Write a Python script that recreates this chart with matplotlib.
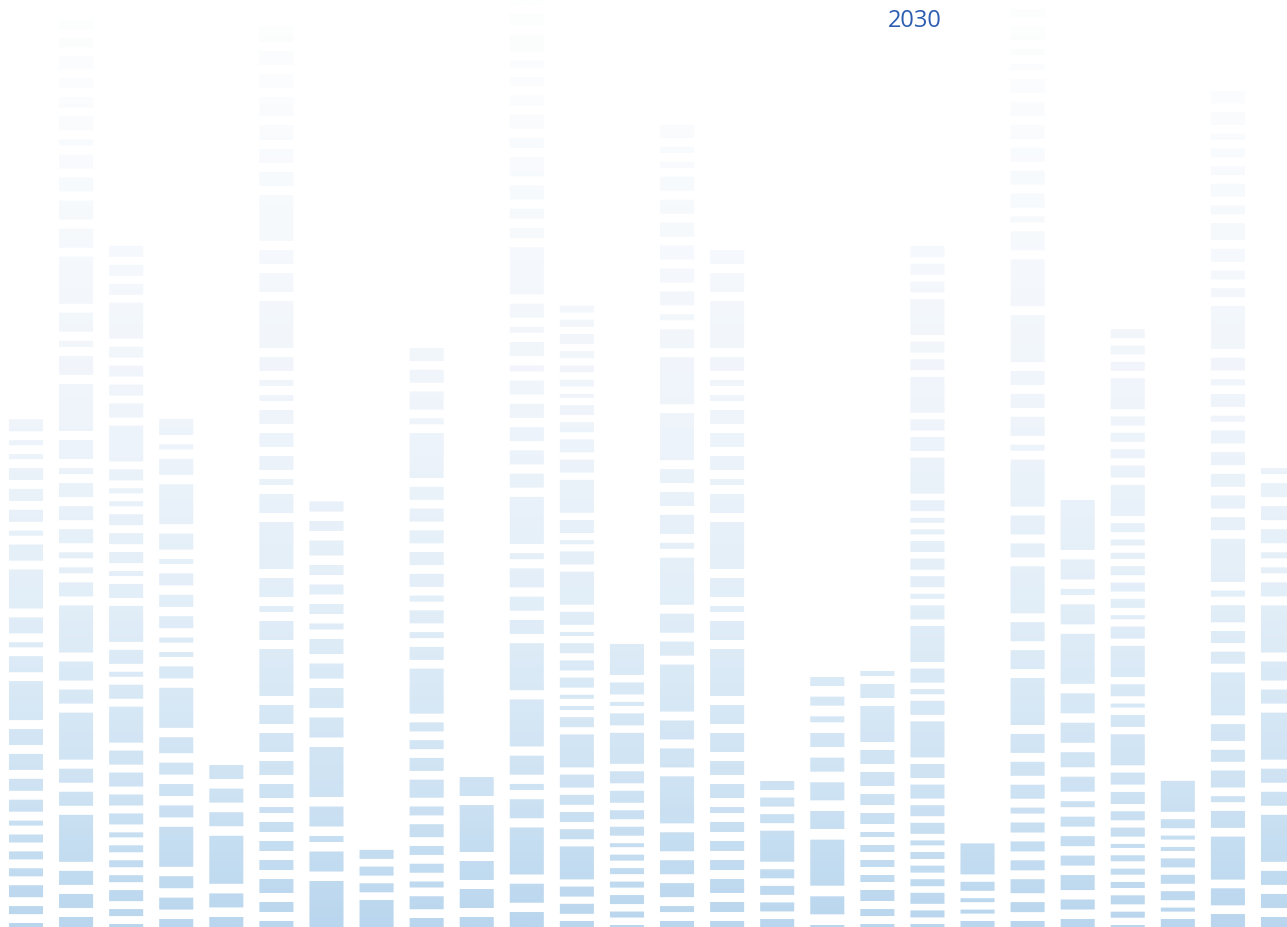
import numpy as np
import matplotlib
matplotlib.use("Agg")
import matplotlib.pyplot as plt
from matplotlib.path import Path
from matplotlib.patches import PathPatch
from matplotlib.colors import LinearSegmentedColormap

# Segment heights of every column, listed from the bottom up
col01 = [4, 8, 12, 8, 8, 8, 5, 12, 12, 16, 16, 39, 16, 5, 16, 39, 16, 5, 12, 12, 12, 5, 5, 12]
col02 = [10, 14, 14, 47, 14, 14, 47, 14, 19, 47, 14, 6, 6, 14, 14, 14, 6, 19, 47, 19, 6, 19, 47,
         19, 19, 14, 14, 6, 14, 10, 10, 13, 9, 9]
col03 = [3, 7, 11, 7, 7, 7, 5, 11, 11, 14, 14, 36, 14, 5, 14, 36, 14, 5, 11, 11, 11, 5, 5, 11,
         36, 14, 11, 11, 11, 36, 11, 11, 11]
col04 = [8, 12, 12, 40, 12, 12, 12, 16, 40, 12, 5, 5, 12, 12, 12, 5, 16, 40, 16, 5, 16]
col05 = [10, 14, 48, 14, 14, 14]
col06 = [6, 10, 14, 10, 10, 10, 6, 14, 14, 19, 19, 47, 19, 6, 19, 47, 19, 6, 14, 14, 14, 6, 6,
         14, 47, 19, 14, 46, 14, 14, 15, 19, 14, 14, 16]
col07 = [46, 20, 6, 20, 50, 20, 20, 15, 15, 6, 10, 10, 10, 15, 10, 10]
col08 = [27, 9, 9, 9]
col09 = [9, 13, 6, 9, 9, 13, 9, 18, 13, 9, 9, 45, 13, 6, 13, 6, 13, 13, 13, 13, 13, 45, 6, 18, 13, 13]
col10 = [10, 19, 19, 47, 19]
col11 = [15, 19, 47, 19, 6, 19, 47, 47, 14, 14, 19, 6, 47, 14, 14, 14, 14, 14, 6, 14, 6, 14, 47,
         10, 10, 14, 19, 10, 14, 10, 9, 7, 17, 12, 4]
col12 = [6, 10, 10, 33, 10, 10, 10, 13, 33, 10, 4, 4, 10, 10, 10, 4, 13, 33, 13, 4, 13, 33, 13,
         13, 10, 10, 4, 7, 7, 7, 10, 7, 7]
col13 = [2, 6, 9, 6, 6, 6, 4, 9, 9, 12, 12, 31, 12, 4, 12, 31]
col14 = [6, 6, 14, 14, 19, 47, 19, 19, 47, 14, 19, 47, 6, 19, 14, 14, 47, 47, 19, 6, 14, 14, 14,
         14, 14, 14, 6, 6, 13]
col15 = col06[:27]
col16 = [8, 9, 9, 9, 31, 9, 9, 9]
col17 = [2, 18, 46, 18, 18, 14, 14, 6, 9, 9]
col18 = col03[:14]
col19 = [3, 7, 11, 7, 7, 7, 5, 11, 11, 14, 14, 36, 14, 5, 14, 36, 14, 5, 11, 11, 11, 5, 5, 11,
         36, 14, 11, 36, 11, 11, 36, 11, 11, 11]
col20 = [6, 4, 4, 9, 31]
col21 = [6, 10, 14, 10, 10, 10, 6, 14, 14, 19, 47, 19, 19, 47, 14, 19, 47, 6, 19, 14, 14, 47, 47,
         19, 6, 14, 14, 14, 14, 14, 14, 6, 6, 14, 8]
col22 = [8, 10, 15, 10, 10, 10, 6, 15, 15, 20, 20, 50, 20, 6, 20, 50]
col23 = [2, 6, 9, 6, 6, 6, 4, 9, 9, 12, 12, 31, 12, 4, 12, 31, 12, 4, 9, 9, 9, 6, 6, 9, 31, 12,
         9, 9, 9, 31, 9, 9, 9]
col24 = [8, 4, 9, 9, 9, 4, 4, 9, 31]
col25 = [13, 17, 43, 17, 6, 17, 12, 17, 43, 12, 12, 17, 6, 43, 13, 13, 13, 13, 13, 6, 13, 6, 13,
         43, 9, 9, 13, 17, 9, 13, 9, 9, 6, 13, 12]
col26 = col02[:17]

columns = [col01, col02, col03, col04, col05, col06, col07, col08, col09, col10, col11, col12, col13,
           col14, col15, col16, col17, col18, col19, col20, col21, col22, col23, col24, col25, col26]
label = "2030"

# White space between the stacked pieces of each column
gaps = [8.9, 9.06, 7.94, 9.4, 9.6, 9.0, 9.5, 7.7, 8.76, 9.0, 9.26, 7.2, 7.47,
        8.93, 9.0, 7.57, 10.67, 8.0, 6.6, 7.4, 8.9, 9.47, 7.34, 7.4, 8.7, 9.06]

W, H = 1287, 927
fig = plt.figure(figsize=(W / 100, H / 100), dpi=100)
ax = fig.add_axes([0, 0, 1, 1])
ax.set_axis_off()

step = 50.08
xlim = (-26 / step, (W - 26) / step)

# Draw the bars without fill, they only serve as a clip mask for the gradient
patches = []
for i, (heights, gap) in enumerate(zip(columns, gaps)):
    heights = np.array(heights, dtype=float)
    bottoms = np.concatenate([[0], np.cumsum(heights[:-1] + gap)])
    bc = ax.bar(np.full(len(heights), i), heights, bottom=bottoms, width=0.68,
                color="none", linewidth=0)
    patches.extend(bc.patches)

paths = [p.get_path().transformed(p.get_patch_transform()) for p in patches]
mask = PathPatch(Path.make_compound_path(*paths), transform=ax.transData,
                 facecolor="none", edgecolor="none")
ax.add_patch(mask)

# Vertical gradient, light blue at the bottom fading to white at the top
cmap = LinearSegmentedColormap.from_list("fade", [
    (0.0, "#b9d6ee"),
    (0.14, "#cde2f3"),
    (0.35, "#e2eef8"),
    (0.57, "#f0f5fb"),
    (0.78, "#f7fafd"),
    (1.0, "#fdfefe"),
])
grad = np.linspace(0, 1, 512).reshape(-1, 1)
im = ax.imshow(grad, extent=[xlim[0], xlim[1], 0, H], origin="lower", aspect="auto",
               cmap=cmap, interpolation="bilinear")
im.set_clip_path(mask)

ax.set_xlim(*xlim)
ax.set_ylim(0, H)

fig.text(915 / W, 1 - 21 / H, label, ha="center", va="center", fontsize=17,
         color="#2c5db1", family=["Open Sans", "DejaVu Sans"])

fig.savefig("out.png", dpi=100)
